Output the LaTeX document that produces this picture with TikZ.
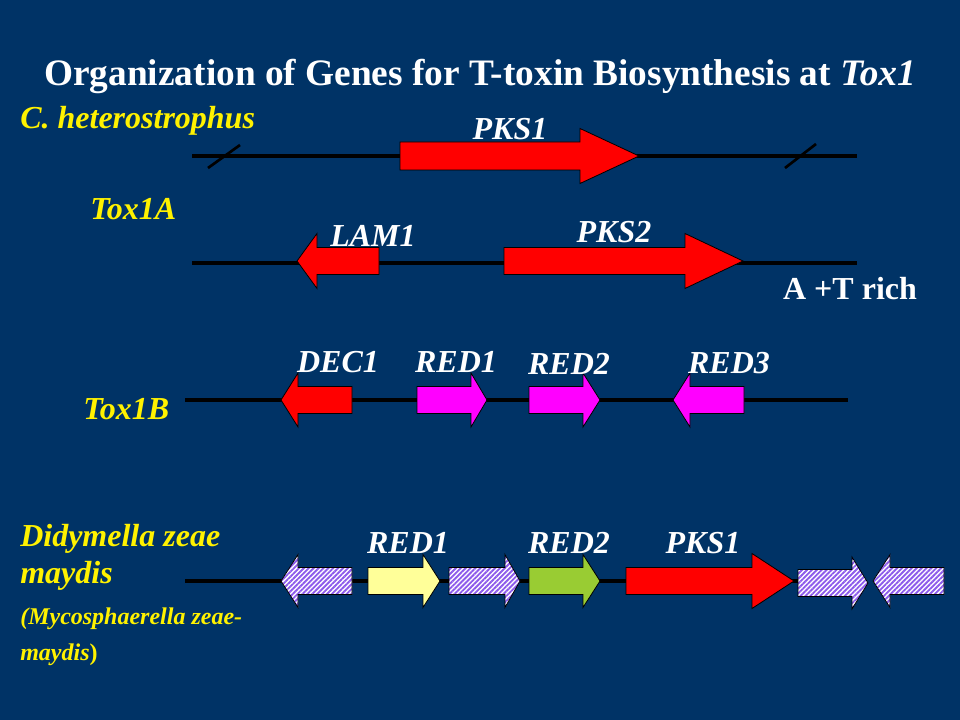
\documentclass[tikz,border=0pt]{standalone}
\usepackage{fontspec}
\setmainfont{Liberation Serif}
\usetikzlibrary{patterns.meta}
\definecolor{navy}{RGB}{0,51,102}
\definecolor{hatchc}{RGB}{140,90,235}
\definecolor{lightyel}{RGB}{255,255,153}
\definecolor{leaf}{RGB}{153,204,51}
\definecolor{genered}{RGB}{255,0,0}
\definecolor{genemag}{RGB}{255,0,255}
\newcommand\gArrow[7]{\draw[genebox,#1] (#2,#5-#6) -- (#3,#5-#6) -- (#3,#5-#7) -- (#4,#5) -- (#3,#5+#7) -- (#3,#5+#6) -- (#2,#5+#6) -- cycle;}
\begin{document}
\begin{tikzpicture}[x=0.75pt,y=-0.75pt,
  genebox/.style={draw=black,line width=0.6pt,line join=miter},
  redg/.style={fill=genered},
  magg/.style={fill=genemag},
  yelg/.style={fill=lightyel},
  grng/.style={fill=leaf},
  hatg/.style={preaction={fill=white},pattern={Lines[angle=45,distance=2.6pt,line width=1.4pt]},pattern color=hatchc},
  chrom/.style={draw=black,line width=3pt},
  brk/.style={draw=black,line width=2pt},
  genelbl/.style={text=white,font=\fontsize{24}{28}\selectfont\bfseries\itshape,anchor=base,inner sep=0pt},
  species/.style={text=yellow,font=\fontsize{24}{28}\selectfont\bfseries\itshape,anchor=base west,inner sep=0pt},
  smallsp/.style={text=yellow,font=\fontsize{18}{22}\selectfont\bfseries\itshape,anchor=base west,inner sep=0pt}]
\fill[navy] (0,0) rectangle (960,720);
\useasboundingbox (0,0) rectangle (960,720);
% title
\node[text=white,font=\fontsize{28}{32}\selectfont\bfseries,anchor=base,inner sep=0pt] (title) at (480,86) {Organization of Genes for T-toxin Biosynthesis at \textit{Tox1}};
% species labels
\node[species] (sp1) at (20,129) {C. heterostrophus};
\node[species] (sp2) at (90,220) {Tox1A};
\node[species] (sp3) at (83,419) {Tox1B};
\node[species] (sp4) at (20,546) {Didymella zeae};
\node[species] (sp5) at (20,583) {maydis};
\node[smallsp] (sp6) at (20,624) {(Mycosphaerella zeae-};
\node[smallsp] (sp7) at (20,660) {maydis\textup{)}};
% row 1
\coordinate (r1a) at (192,156);
\coordinate (r1b) at (857,156);
\draw[chrom] (r1a) -- (r1b);
\coordinate (s1a) at (208,168); \coordinate (s1b) at (240,145);
\coordinate (s2a) at (785,168); \coordinate (s2b) at (816,144);
\draw[brk] (s1a) -- (s1b);
\draw[brk] (s2a) -- (s2b);
\gArrow{redg}{400}{580}{639}{156}{14}{27.5}
\node[genelbl] (pks1a) at (510,140) {PKS1};
% row 2
\coordinate (r2a) at (192,263);
\coordinate (r2b) at (857,263);
\draw[chrom] (r2a) -- (r2b);
\gArrow{redg}{379}{317}{297}{261}{13.5}{27.5}
\gArrow{redg}{504}{685}{743}{261}{13.5}{27.5}
\node[genelbl] (lam1) at (373,247) {LAM1};
\node[genelbl] (pks2) at (614,243) {PKS2};
\node[text=white,font=\fontsize{24}{28}\selectfont\bfseries,anchor=base,inner sep=0pt] (atrich) at (850,300) {A +T rich};
% row 3
\coordinate (r3a) at (185,400);
\coordinate (r3b) at (848,400);
\draw[chrom] (r3a) -- (r3b);
\gArrow{redg}{352}{298}{281}{400}{13.5}{27}
\gArrow{magg}{417}{471}{487}{400}{13.5}{27}
\gArrow{magg}{529}{583}{600}{400}{13.5}{27}
\gArrow{magg}{744}{690}{673}{400}{13.5}{27}
\node[genelbl] (dec1) at (338,372) {DEC1};
\node[genelbl] (red1a) at (456,372) {RED1};
\node[genelbl] (red2a) at (569,374) {RED2};
\node[genelbl] (red3a) at (729,373) {RED3};
% row 4
\coordinate (r4a) at (185,581);
\coordinate (r4b) at (860,581);
\draw[chrom] (r4a) -- (r4b);
\gArrow{hatg}{352}{298}{281}{581}{13.5}{26.5}
\gArrow{yelg}{368}{423}{440}{581}{13.5}{26.5}
\gArrow{hatg}{449}{505}{520}{581}{13.5}{26.5}
\gArrow{grng}{529}{583}{600}{581}{13.5}{26.5}
\gArrow{redg}{626}{752}{794}{581}{13.5}{27.5}
\gArrow{hatg}{798}{852}{868}{583}{13.5}{26}
\gArrow{hatg}{944}{890}{873}{581}{13.5}{26.5}
\node[genelbl] (red1b) at (408,553) {RED1};
\node[genelbl] (red2b) at (569,553) {RED2};
\node[genelbl] (pks1b) at (703,553) {PKS1};
\end{tikzpicture}
\end{document}
